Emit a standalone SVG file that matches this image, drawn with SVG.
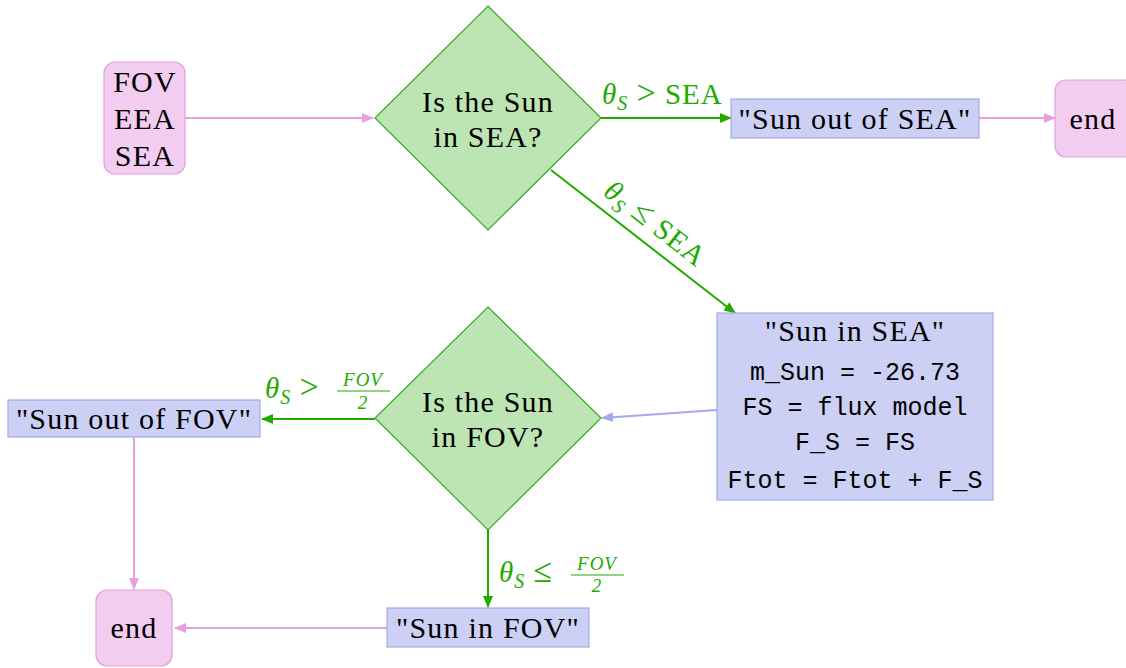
<svg xmlns="http://www.w3.org/2000/svg" width="1126" height="668" viewBox="0 0 1126 668">
<style>
.t{font-family:"Liberation Serif","Times New Roman",serif;font-size:30px;letter-spacing:1.2px;fill:#000;text-anchor:middle}
.m{font-family:"Liberation Mono","DejaVu Sans Mono",monospace;font-size:25px;fill:#000;text-anchor:middle}
.g{font-family:"Liberation Serif","Times New Roman",serif;font-size:29px;letter-spacing:1px;fill:#22aa00}
.gi{font-style:italic}
.rel{font-size:34px}
.gs{font-family:"Liberation Serif","Times New Roman",serif;font-size:19px;letter-spacing:1px;fill:#22aa00;font-style:italic;text-anchor:middle}
.term{fill:#f2cdef;stroke:#e3a0e0;stroke-width:1.2}
.dec{fill:#bde5b3;stroke:#33aa22;stroke-width:1.2}
.proc{fill:#cdd0f5;stroke:#a3a9ea;stroke-width:1.2}
.cg{stroke:#22aa00;stroke-width:2;fill:none;marker-end:url(#ag)}
.cp{stroke:#e6a0e0;stroke-width:2;fill:none;marker-end:url(#ap)}
.cb{stroke:#a3a9ea;stroke-width:2;fill:none;marker-end:url(#ab)}
</style>
<defs>
<marker id="ag" viewBox="0 0 12 10" refX="11" refY="5" markerWidth="12" markerHeight="10" markerUnits="userSpaceOnUse" orient="auto"><path d="M0,0 L12,5 L0,10 Z" fill="#22aa00"/></marker>
<marker id="ap" viewBox="0 0 12 10" refX="11" refY="5" markerWidth="12" markerHeight="10" markerUnits="userSpaceOnUse" orient="auto"><path d="M0,0 L12,5 L0,10 Z" fill="#e6a0e0"/></marker>
<marker id="ab" viewBox="0 0 12 10" refX="11" refY="5" markerWidth="12" markerHeight="10" markerUnits="userSpaceOnUse" orient="auto"><path d="M0,0 L12,5 L0,10 Z" fill="#a3a9ea"/></marker>
</defs>
<g id="connectors">
<line class="cp" x1="185" y1="118" x2="373" y2="118"/>
<line class="cg" x1="601" y1="118" x2="731" y2="118"/>
<line class="cp" x1="979" y1="118" x2="1055" y2="118"/>
<line class="cg" x1="551" y1="170" x2="735" y2="313"/>
<line class="cb" x1="717" y1="410" x2="602" y2="418"/>
<line class="cg" x1="375" y1="419" x2="262" y2="419"/>
<line class="cp" x1="134" y1="437" x2="134" y2="589"/>
<line class="cg" x1="488" y1="530" x2="488" y2="607"/>
<line class="cp" x1="387" y1="628" x2="175" y2="628"/>
<text class="g" x="602" y="104"><tspan class="gi">θ</tspan><tspan class="gi" font-size="20" dy="6">S</tspan><tspan dy="-6"> </tspan><tspan class="rel">&gt;</tspan><tspan> SEA</tspan></text>
<g transform="translate(655,224) rotate(37.9)"><text class="g" x="0" y="9" text-anchor="middle"><tspan class="gi">θ</tspan><tspan class="gi" font-size="20" dy="6">S</tspan><tspan dy="-6"> </tspan><tspan class="rel">≤</tspan><tspan> SEA</tspan></text></g>
<text class="g" x="265" y="398"><tspan class="gi">θ</tspan><tspan class="gi" font-size="20" dy="6">S</tspan><tspan dy="-6"> </tspan><tspan class="rel">&gt;</tspan></text>
<text class="gs" x="363" y="386">FOV</text>
<line x1="337" y1="391" x2="390" y2="391" stroke="#22aa00" stroke-width="1.2"/>
<text class="gs" x="363" y="409" font-style="normal">2</text>
<text class="g" x="499" y="582"><tspan class="gi">θ</tspan><tspan class="gi" font-size="20" dy="6">S</tspan><tspan dy="-6"> </tspan><tspan class="rel">≤</tspan></text>
<text class="gs" x="597" y="570">FOV</text>
<line x1="571" y1="575" x2="624" y2="575" stroke="#22aa00" stroke-width="1.2"/>
<text class="gs" x="597" y="592" font-style="normal">2</text>
</g>
<g id="input">
<rect class="term" x="104" y="62" width="81" height="112" rx="11"/>
<text class="t" x="145" y="92">FOV</text>
<text class="t" x="145" y="129">EEA</text>
<text class="t" x="145" y="166">SEA</text>
</g>
<g id="sea-decision">
<polygon class="dec" points="488,6 601,118 488,230 375,118"/>
<text class="t" x="488" y="112">Is the Sun</text>
<text class="t" x="488" y="147">in SEA?</text>
</g>
<g id="sun-out-sea">
<rect class="proc" x="731" y="99" width="248" height="39"/>
<text class="t" x="855" y="129">"Sun out of SEA"</text>
</g>
<g id="end1">
<rect class="term" x="1055" y="80" width="80" height="77" rx="11"/>
<text class="t" x="1093" y="129">end</text>
</g>
<g id="sun-in-sea">
<rect class="proc" x="717" y="313" width="276" height="187"/>
<text class="t" x="855" y="341">"Sun in SEA"</text>
<text class="m" x="855" y="380">m_Sun = -26.73</text>
<text class="m" x="855" y="415">FS = flux model</text>
<text class="m" x="855" y="450">F_S = FS</text>
<text class="m" x="855" y="488">Ftot = Ftot + F_S</text>
</g>
<g id="fov-decision">
<polygon class="dec" points="488,307 601,418 488,530 375,418"/>
<text class="t" x="488" y="412">Is the Sun</text>
<text class="t" x="488" y="447">in FOV?</text>
</g>
<g id="sun-out-fov">
<rect class="proc" x="8" y="400" width="252" height="37"/>
<text class="t" x="134" y="429">"Sun out of FOV"</text>
</g>
<g id="end2">
<rect class="term" x="96" y="590" width="76" height="76" rx="11"/>
<text class="t" x="134" y="638">end</text>
</g>
<g id="sun-in-fov">
<rect class="proc" x="387" y="608" width="202" height="39"/>
<text class="t" x="488" y="638">"Sun in FOV"</text>
</g>
</svg>
